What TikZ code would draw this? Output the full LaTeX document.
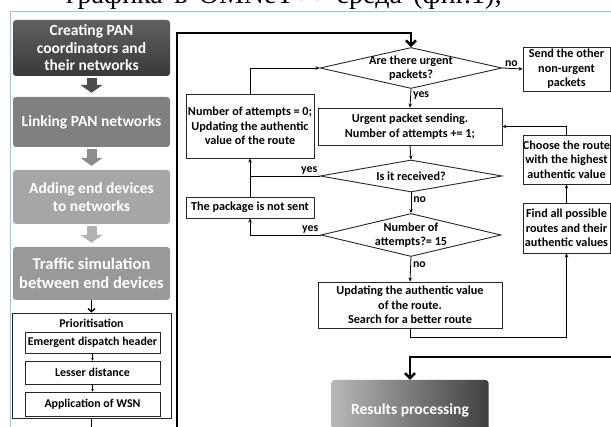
\documentclass[tikz,border=0pt]{standalone}
\usepackage{fontspec}
\setmainfont{Carlito}
\newfontfamily\rufont{Liberation Serif}
\usetikzlibrary{shapes.geometric,arrows.meta,calc}

\tikzset{
  stage/.style={rounded corners=3pt, text=white, align=center,
    font=\bfseries\fontsize{15.5}{17.5}\selectfont, minimum width=157pt, inner sep=0pt},
  blk/.style={line width=10pt, -{Triangle[width=22pt,length=8pt]}, shorten <=2pt, shorten >=4pt},
  box/.style={draw=black!85, line width=0.9pt, fill=white, align=center,
    font=\bfseries\fontsize{12.2}{14.5}\selectfont, inner sep=0pt},
  dia/.style={diamond, draw=black!85, line width=0.9pt, fill=white, inner sep=0pt},
  txt/.style={align=center, font=\bfseries\fontsize{12.2}{14.5}\selectfont, inner sep=0pt},
  small/.style={font=\bfseries\fontsize{11.9}{14}\selectfont},
  lbl/.style={font=\bfseries\fontsize{11.8}{13}\selectfont, inner sep=0pt},
  flow/.style={line width=0.8pt, -{Stealth[length=4pt,width=3.5pt]}},
  bigloop/.style={line width=2.4pt, -{Straight Barb[length=5pt,width=10pt]}},
}

\begin{document}
\begin{tikzpicture}[x=1pt,y=-1pt]
  \useasboundingbox (0,0) rectangle (611,427);
  \clip (0,0) rectangle (611,427);

  % page frame and cut text line
  \node[anchor=base west, font=\rufont\fontsize{28}{28}\selectfont, inner sep=0pt] (cap) at (66,4)
    {\makebox[436pt][s]{графика в OMNeT++ среда (фиг.1);}};
  \draw[draw={rgb,255:red,157;green,195;blue,230}, line width=1pt] (10,427) -- (10,12) -- (611,12);

  % left column
  \node[stage, minimum height=56pt, top color=black!62, bottom color=black!78] (c1) at (91.5,48) {Creating PAN\\coordinators and\\their networks};
  \node[stage, minimum height=50pt, fill=black!50] (c2) at (91.5,122) {Linking PAN networks};
  \node[stage, minimum height=54pt, fill=black!35] (c3) at (91.5,197) {Adding end devices\\to networks};
  \node[stage, minimum height=53pt, fill=black!40, font=\bfseries\fontsize{16.5}{18.5}\selectfont] (c4) at (91.5,273.5) {Traffic simulation\\between end devices};
  \draw[blk, draw=black!70] (c1) -- (c2);
  \draw[blk, draw=black!45] (c2) -- (c3);
  \draw[blk, draw=black!30] (c3) -- (c4);

  \node[box, minimum width=159pt, minimum height=105pt] (prio) at (91.5,365.5) {};
  \node[txt, small] (priot) at (91.5,323) {Prioritisation};
  \node[box, small, minimum width=135pt, minimum height=21pt] (e1) at (92.5,342.5) {Emergent dispatch header};
  \node[box, small, minimum width=135pt, minimum height=23pt] (e2) at (92.5,372.5) {Lesser distance};
  \node[box, small, minimum width=135pt, minimum height=24pt] (e3) at (92.5,404) {Application of WSN};
  \draw[line width=1.4pt, -{Straight Barb[length=3pt,width=7pt]}] (c4) -- (prio);
  \draw[line width=0.6pt, -{Stealth[length=2.5pt,width=2.5pt]}] (e1) -- (e2);
  \draw[line width=0.6pt, -{Stealth[length=2.5pt,width=2.5pt]}] (e2) -- (e3);
  \draw[line width=1.4pt] (prio.south) -- ++(0,12);

  % main algorithm
  \node[dia, minimum width=182pt, minimum height=41pt] (d1) at (411,68) {};
  \node[txt] (d1t) at (d1) {Are there urgent\\packets?};
  \node[box, minimum width=87pt, minimum height=44pt] (s1) at (566.5,69) {Send the other\\non-urgent\\packets};
  \node[box, minimum width=184pt, minimum height=37pt] (u1) at (410,126.5) {Urgent packet sending.\\Number of attempts += 1;};
  \node[dia, minimum width=182pt, minimum height=32pt] (d2) at (411,176) {};
  \node[txt] (d2t) at (d2) {Is it received?};
  \node[dia, minimum width=180pt, minimum height=43pt] (d3) at (411,235) {};
  \node[txt] (d3t) at (d3) {Number of\\attempts?= 15};
  \node[box, minimum width=184pt, minimum height=46pt] (u2) at (410,305) {Updating the authentic value\\of the route.\\Search for a better route};
  \node[box, minimum width=128pt, minimum height=64pt] (a0) at (250,126) {Number of attempts = 0;\\Updating the authentic\\value of the route};
  \node[box, minimum width=128pt, minimum height=21pt] (ns) at (250,207.5) {The package is not sent};
  \node[box, minimum width=87pt, minimum height=49pt] (ch) at (566.5,159.5) {Choose the route\\with the highest\\authentic value};
  \node[box, minimum width=87pt, minimum height=50pt] (fa) at (566.5,228) {Find all possible\\routes and their\\authentic values};
  \node[stage, minimum height=60pt, left color=black!28, right color=black!75] (rp) at (410,410) {Results processing};

  \draw[flow] (d1.east) -- node[lbl, above=1pt, pos=0.45] (no1) {no} (s1.west);
  \draw[flow] (d1.south) -- node[lbl, pos=0.35, right=2pt] (yes1) {yes} (u1.north);
  \draw[flow] (u1.south) -- (d2.north);
  \draw[flow] (d2.south) -- node[lbl, pos=0.35, right=2pt] (no2) {no} (d3.north);
  \draw[flow] (d3.south) -- node[lbl, pos=0.3, right=2pt] (no3) {no} (u2.north);
  \draw[flow] (d2.west) -| (a0.south);
  \node[lbl, anchor=south east] (yes2) at ($(d2.west)+(-2,-1)$) {yes};
  \draw[line width=0.8pt] (ns.north) -- (ns.north |- d2.west);
  \draw[flow] (d3.west) -| (ns.south);
  \node[lbl, anchor=south east] (yes3) at ($(d3.west)+(-2,-1)$) {yes};
  \draw[flow] (a0.north) |- (d1.west);
  \draw[flow] (u2.south) -- ++(0,9) -| (fa.south);
  \draw[flow] (fa.north) -- (ch.south);
  \draw[flow] (ch.north) |- (u1.east);

  % outer loop
  \coordinate (lb) at (177,430);
  \coordinate (rb) at (614,357);
  \draw[bigloop] (lb) |- ($(d1.north)+(0,-14)$) -- (d1.north);
  \draw[bigloop] (rb) -| (rp.north);
\end{tikzpicture}
\end{document}
